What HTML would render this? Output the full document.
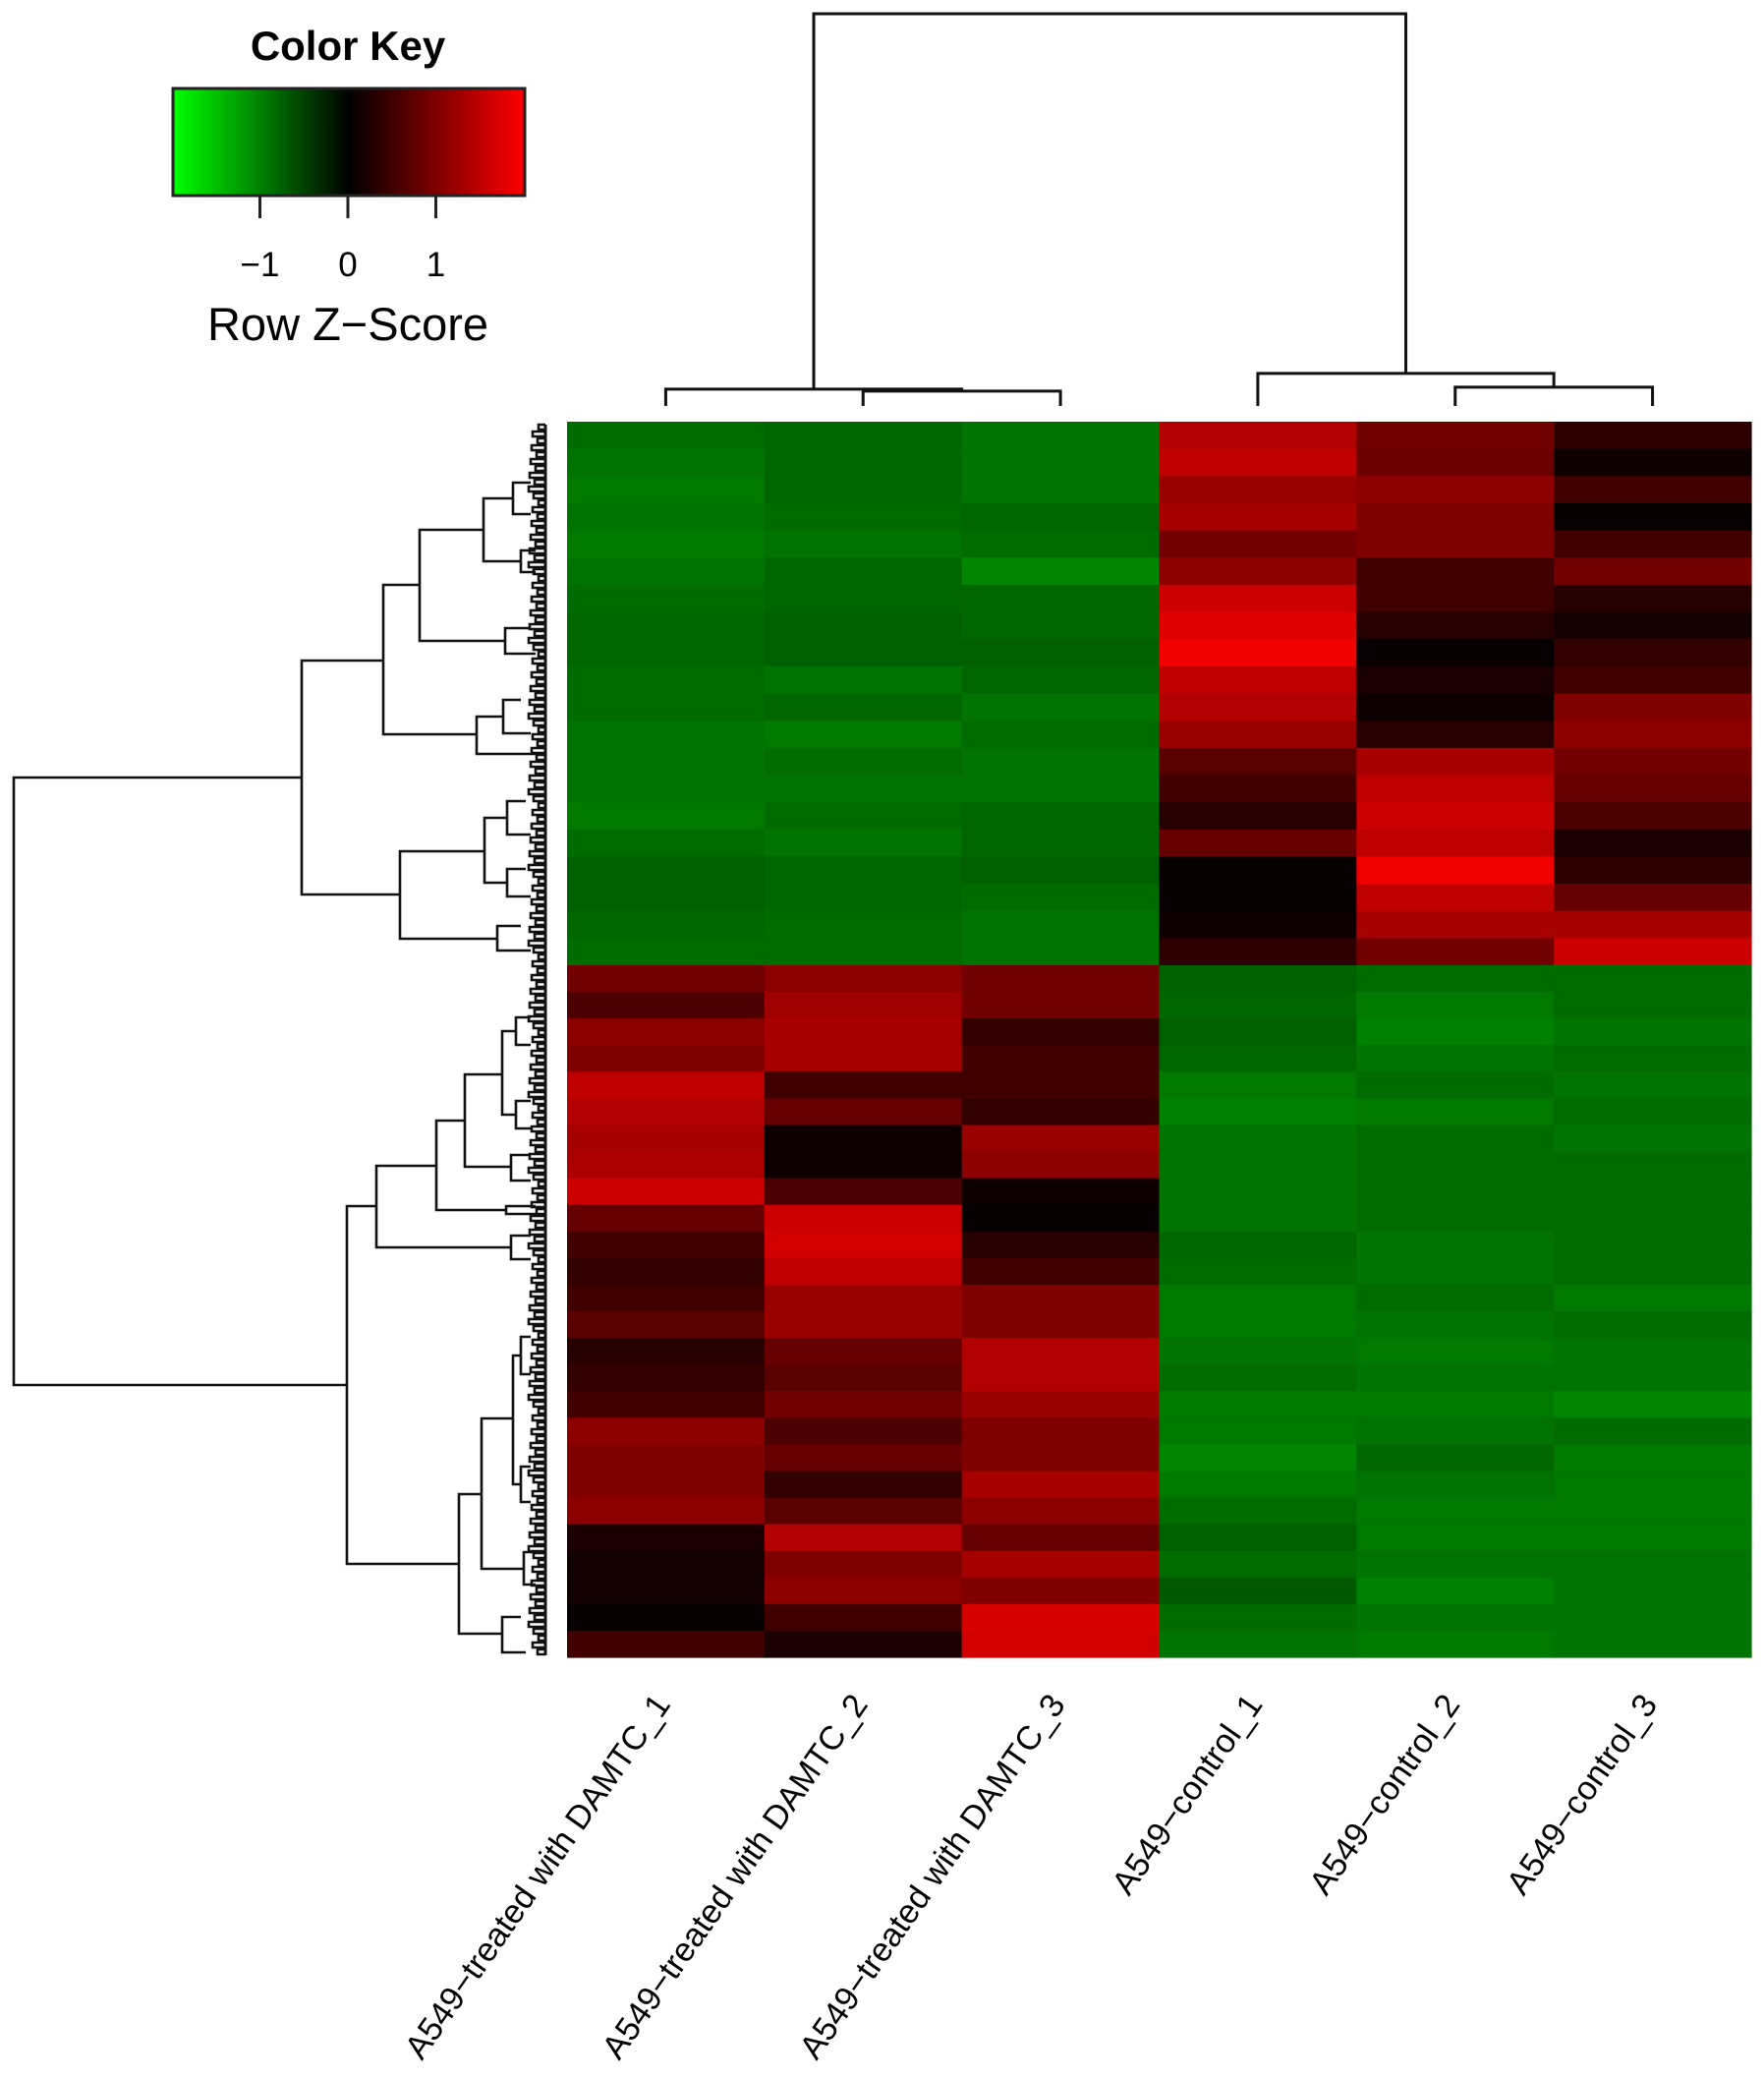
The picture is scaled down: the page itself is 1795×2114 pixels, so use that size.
<!DOCTYPE html>
<html><head><meta charset="utf-8"><style>
html,body{margin:0;padding:0;background:#fff;}
svg{display:block;font-family:"Liberation Sans",sans-serif;}
</style></head><body>
<svg id="chart" width="1795" height="2114" viewBox="0 0 1795 2114" xmlns="http://www.w3.org/2000/svg">
<defs>
<linearGradient id="keygrad" x1="0" x2="1" y1="0" y2="0">
<stop offset="0" stop-color="#00ff00"/><stop offset="0.5" stop-color="#000"/><stop offset="1" stop-color="#ff0000"/>
</linearGradient>
</defs>
<g>
<text x="354" y="61" font-size="42" font-weight="bold" text-anchor="middle">Color Key</text>
<rect x="176" y="90" width="358" height="109" fill="url(#keygrad)" stroke="#222" stroke-width="3"/>
<g id="keyticks"></g>
<text x="354" y="346" font-size="47" text-anchor="middle">Row Z−Score</text>
</g>
<g id="coldendro" stroke="#111" stroke-width="3" fill="none"></g>
<g id="rowdendro" stroke="#111" stroke-width="2.6" fill="none"></g>
<g id="cells"></g>
<g id="labels"></g>
</svg>
<script>
const columns = ["A549−treated with DAMTC_1","A549−treated with DAMTC_2","A549−treated with DAMTC_3","A549−control_1","A549−control_2","A549−control_3"];
const keyTicks = [-1, 0, 1];
const keyTickLabels = ["−1", "0", "1"];
const upperBlock = [
[-0.85,-0.8,-0.9,1.4,0.9,0.35],[-0.9,-0.8,-0.9,1.5,0.85,0.1],[-0.95,-0.8,-0.9,1.2,1.1,0.5],[-0.9,-0.85,-0.8,1.3,1.0,0.05],
[-0.95,-0.9,-0.85,0.9,1.0,0.5],[-0.9,-0.8,-1.05,1.1,0.5,0.9],[-0.85,-0.8,-0.8,1.6,0.5,0.3],[-0.8,-0.75,-0.8,1.75,0.3,0.15],
[-0.8,-0.75,-0.75,1.9,0.05,0.4],[-0.85,-0.9,-0.8,1.5,0.2,0.5],[-0.85,-0.8,-0.9,1.4,0.1,1.0],[-0.9,-0.95,-0.85,1.2,0.3,1.1],
[-0.9,-0.85,-0.9,0.7,1.3,0.9],[-0.9,-0.9,-0.9,0.5,1.5,0.8],[-0.95,-0.85,-0.8,0.3,1.6,0.6],[-0.85,-0.9,-0.8,0.8,1.5,0.2],
[-0.75,-0.8,-0.75,0.05,1.9,0.35],[-0.75,-0.8,-0.85,0.05,1.5,0.8],[-0.8,-0.85,-0.9,0.1,1.3,1.3],[-0.85,-0.85,-0.9,0.35,0.9,1.6]
];
const lowerBlock = [
[0.9,1.1,0.9,-0.75,-0.85,-0.85],[0.6,1.25,0.9,-0.8,-0.95,-0.85],[1.1,1.3,0.4,-0.75,-1.0,-0.9],[1.0,1.3,0.5,-0.8,-0.9,-0.85],
[1.5,0.5,0.5,-0.95,-0.85,-0.9],[1.4,0.8,0.4,-1.0,-0.95,-0.85],[1.3,0.1,1.2,-0.9,-0.85,-0.9],[1.35,0.1,1.1,-0.9,-0.85,-0.85],
[1.6,0.6,0.1,-0.9,-0.85,-0.85],[0.8,1.6,0.05,-0.9,-0.85,-0.85],[0.5,1.65,0.3,-0.8,-0.9,-0.85],[0.4,1.5,0.5,-0.85,-0.9,-0.85],
[0.5,1.2,1.0,-0.95,-0.85,-0.95],[0.7,1.2,1.0,-0.95,-0.9,-0.85],[0.3,0.8,1.4,-0.9,-0.95,-0.9],[0.4,0.7,1.4,-0.85,-0.9,-0.9],
[0.5,0.9,1.2,-0.95,-0.95,-1.05],[1.1,0.6,1.0,-0.95,-0.9,-0.85],[1.0,0.8,1.0,-1.05,-0.8,-0.95],[1.0,0.4,1.3,-0.95,-0.9,-0.95],
[1.1,0.7,1.1,-0.85,-0.95,-0.95],[0.2,1.4,0.8,-0.75,-0.95,-0.95],[0.15,1.0,1.3,-0.85,-0.9,-0.9],[0.15,1.1,1.0,-0.7,-1.0,-0.9],
[0.05,0.5,1.7,-0.85,-0.9,-0.9],[0.5,0.2,1.65,-0.9,-0.95,-0.9]
];
// column dendrogram merge heights: [ctrl2-ctrl3, trt2-trt3, trt1-(trt2,3), ctrl1-(ctrl2,3), root]
const colMergeHeights = [0.048, 0.038, 0.043, 0.083, 1.0];

const NS = "http://www.w3.org/2000/svg";
const HX0 = 577, HX1 = 1782, HY0 = 429, HSPLIT = 982, HY1 = 1686;
const colW = (HX1 - HX0) / columns.length;
function xCol(i){ return HX0 + colW * i; }
function xCenter(i){ return HX0 + colW * (i + 0.5); }
function keyX(v){ return 354 + v * 89.5; }
function colY(h){ return 413 - h * 399; }
function zColor(v){
  const c = Math.max(-2, Math.min(2, v));
  const m = Math.round(Math.abs(c) / 2 * 255);
  return c >= 0 ? `rgb(${m},0,0)` : `rgb(0,${m},0)`;
}
function mk(tag, attrs, parent){
  const e = document.createElementNS(NS, tag);
  for (const k in attrs) e.setAttribute(k, attrs[k]);
  parent.appendChild(e); return e;
}
const kt = document.getElementById('keyticks');
keyTicks.forEach((t, i) => {
  const l = mk('line', {x1: keyX(t), x2: keyX(t), y1: 199, y2: 222, stroke: '#222', 'stroke-width': 3}, kt);
  
  
  const tx = mk('text', {x: keyX(t), y: 281, 'font-size': 35, 'text-anchor': 'middle'}, kt);
  tx.textContent = keyTickLabels[i];
  
  
});
const cells = document.getElementById('cells');
function drawBlock(block, y0, y1, tag){
  const h = (y1 - y0) / block.length;
  block.forEach((row, r) => {
    row.forEach((v, c) => {
      const rc = mk('rect', {x: xCol(c), y: y0 + r * h, width: colW + 0.6, height: h + 0.6, fill: zColor(v)}, cells);
      
      
    });
  });
}
drawBlock(upperBlock, HY0, HSPLIT, 'upper');
drawBlock(lowerBlock, HSPLIT, HY1, 'lower');
const cd = document.getElementById('coldendro');
function seg(pts, parent, name){
  const p = mk('polyline', {points: pts.map(q => q.join(',')).join(' ')}, parent);
  
  
}
const hL23 = colMergeHeights[1], hL = colMergeHeights[2], hR56 = colMergeHeights[0], hR = colMergeHeights[3], hRoot = colMergeHeights[4];
const leaf = colY(0);
const mL23 = (xCenter(1) + xCenter(2)) / 2, mR56 = (xCenter(4) + xCenter(5)) / 2;
seg([[xCenter(1), leaf], [xCenter(1), colY(hL23)], [xCenter(2), colY(hL23)], [xCenter(2), leaf]], cd, 'column-dendrogram-branch');
const mL = (xCenter(0) + mL23) / 2;
seg([[xCenter(0), leaf], [xCenter(0), colY(hL)], [mL23, colY(hL)], [mL23, colY(hL23)]], cd, 'column-dendrogram-branch');
seg([[xCenter(4), leaf], [xCenter(4), colY(hR56)], [xCenter(5), colY(hR56)], [xCenter(5), leaf]], cd, 'column-dendrogram-branch');
const mR = (xCenter(3) + mR56) / 2;
seg([[xCenter(3), leaf], [xCenter(3), colY(hR)], [mR56, colY(hR)], [mR56, colY(hR56)]], cd, 'column-dendrogram-branch');
seg([[mL, colY(hL)], [mL, colY(hRoot)], [mR, colY(hRoot)], [mR, colY(hR)]], cd, 'column-dendrogram-root');
const rowNodes = [
[14,791,1409,307,353],[307,672,910,390,407],[390,595,747,427,485],[427,539,652,492,514],
[492,507,571,522,530],[522,491,523,540,540],[530,560,582,545,545],[514,639,665,540,545],
[485,729,767,512,548],[512,712,746,530,540],[407,866,955,493,506],[493,832,898,516,516],
[516,815,849,535,540],[516,884,912,535,540],[506,942,967,530,540],
[353,1227,1591,383,467],[383,1186,1269,444,520],[444,1140,1231,473,515],[473,1093,1187,511,520],
[511,1049,1134,525,525],[520,1175,1201,540,540],[515,1227,1235,545,545],[520,1257,1281,540,540],
[467,1520,1662,490,511],[490,1443,1596,522,533],[522,1379,1510,530,530],[533,1579,1612,545,545],
[511,1645,1681,530,535],[525,1035,1063,540,540],[525,1120,1148,540,540],[530,1360,1398,540,540],[530,1492,1528,540,540]
];
const rd = document.getElementById('rowdendro');
rowNodes.forEach(n => {
  seg([[n[3], n[1]], [n[0], n[1]], [n[0], n[2]], [n[4], n[2]]], rd, 'row-dendrogram-branch');
});
for (let y = 432; y < 1684; y += 7) {
  const x0 = 538 + ((y * 7) % 11);
  seg([[555, y], [x0, y], [x0, y + 5], [555, y + 5]], rd, 'row-dendrogram-leaf');
}
const spine = mk('line', {x1: 555, x2: 555, y1: 432, y2: 1684, 'stroke-width': 3}, rd);


const lg = document.getElementById('labels');
columns.forEach((name, i) => {
  const x = xCenter(i) + 6, y = 1734;
  const t = mk('text', {x: x, y: y, 'font-size': 34, 'text-anchor': 'end', transform: `rotate(-55 ${x} ${y})`}, lg);
  t.textContent = name;
  
  
});
</script>
</body></html>
